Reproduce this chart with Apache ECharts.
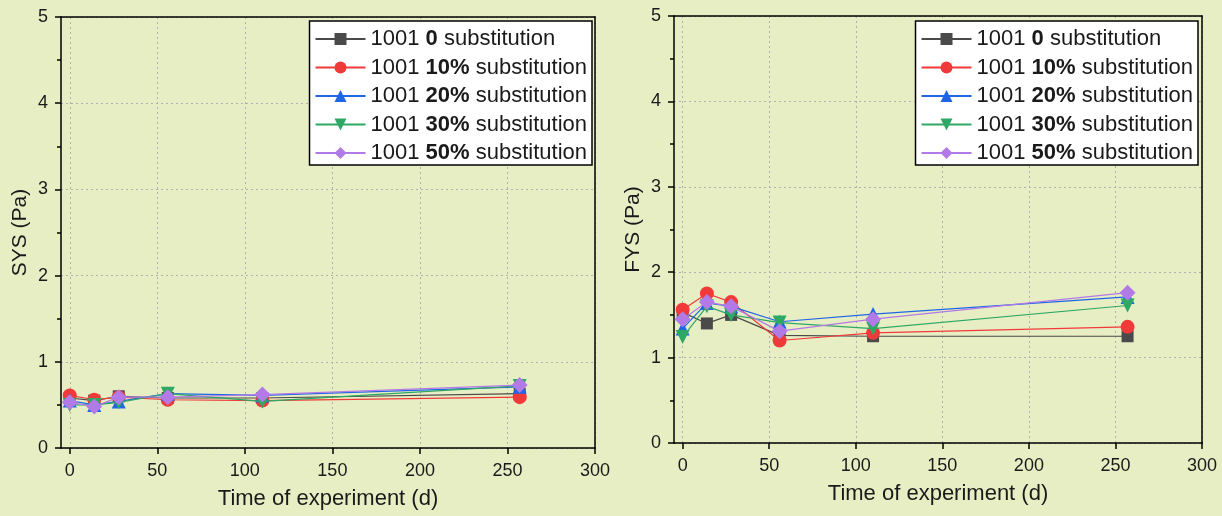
<!DOCTYPE html>
<html><head><meta charset="utf-8">
<script src="https://cdn.jsdelivr.net/npm/echarts@6/dist/echarts.min.js"></script>
<style>html,body{margin:0;padding:0;background:#e8eec4}#c{width:1222px;height:516px}</style>
</head><body><div id="c"></div>
<script>
const days = [0, 14, 28, 56, 110, 257];
const labels = ['0', '10%', '20%', '30%', '50%'];
const xTicks = [0, 50, 100, 150, 200, 250, 300];
// SYS (Pa)
const sys0  = [0.58, 0.55, 0.60, 0.58, 0.58, 0.63];
const sys10 = [0.61, 0.56, 0.59, 0.56, 0.55, 0.59];
const sys20 = [0.55, 0.50, 0.54, 0.63, 0.61, 0.71];
const sys30 = [0.50, 0.50, 0.53, 0.63, 0.54, 0.72];
const sys50 = [0.53, 0.48, 0.59, 0.59, 0.62, 0.73];
// FYS (Pa)
const fys0  = [1.53, 1.40, 1.50, 1.26, 1.25, 1.25];
const fys10 = [1.56, 1.75, 1.65, 1.20, 1.29, 1.36];
const fys20 = [1.34, 1.64, 1.60, 1.42, 1.51, 1.71];
const fys30 = [1.24, 1.60, 1.50, 1.41, 1.34, 1.61];
const fys50 = [1.45, 1.65, 1.60, 1.31, 1.45, 1.76];

const colors = ['#4a4a4a', '#f03a3a', '#1e66e6', '#2ea864', '#b27ae6'];
const symbols = ['rect', 'circle', 'triangle', 'path://M0,0 L10,0 L5,9 Z', 'diamond'];
const symSizes = [12, 14, 14, 14, 16];
const sysData = [sys0, sys10, sys20, sys30, sys50];
const fysData = [fys0, fys10, fys20, fys30, fys50];

const font = 'Liberation Sans, Arial, sans-serif';
const txt = '#1a1a1a';
const axisLineStyle = {color: '#000', width: 1.5};
const gridLine = {show: true, lineStyle: {color: '#b0b0b0', type: [2, 3], width: 1}};

function xAxis(gi) {
  return {
    gridIndex: gi, type: 'value', min: -5, max: 300,
    name: 'Time of experiment (d)', nameLocation: 'middle', nameGap: 40,
    nameTextStyle: {fontFamily: font, fontSize: 22, color: txt},
    axisLine: {show: true, onZero: false, lineStyle: axisLineStyle},
    axisTick: {show: true, inside: false, length: 6, customValues: xTicks, lineStyle: axisLineStyle},
    axisLabel: {customValues: xTicks, fontFamily: font, fontSize: 18, color: txt, margin: 14},
    splitLine: gridLine
  };
}
function xTop(gi) {
  return {gridIndex: gi, type: 'value', min: -5, max: 300, position: 'top',
    axisLine: {show: true, onZero: false, lineStyle: axisLineStyle},
    axisTick: {show: false}, axisLabel: {show: false}, splitLine: {show: false}};
}
function yAxis(gi, nm) {
  return {
    gridIndex: gi, type: 'value', min: 0, max: 5, interval: 1,
    name: nm, nameLocation: 'middle', nameGap: 30,
    nameTextStyle: {fontFamily: font, fontSize: 21, color: txt},
    axisLine: {show: true, onZero: false, lineStyle: axisLineStyle},
    axisTick: {show: true, inside: false, length: 6, lineStyle: axisLineStyle},
    minorTick: {show: true, splitNumber: 2, length: 4, lineStyle: axisLineStyle},
    axisLabel: {fontFamily: font, fontSize: 18, color: txt, margin: 13},
    splitLine: gridLine
  };
}
function yRight(gi) {
  return {gridIndex: gi, type: 'value', min: 0, max: 5, position: 'right',
    axisLine: {show: true, onZero: false, lineStyle: axisLineStyle},
    axisTick: {show: false}, axisLabel: {show: false}, splitLine: {show: false}};
}
const series = [];
function addSeries(prefix, gi, data) {
  data.forEach((vals, i) => {
    series.push({
      name: prefix + i, type: 'line', xAxisIndex: gi, yAxisIndex: gi,
      data: days.map((d, k) => [d, vals[k]]),
      symbol: symbols[i], symbolSize: symSizes[i], showSymbol: true, clip: false,
      itemStyle: {color: colors[i]}, lineStyle: {color: colors[i], width: 1.2},
      z: 2 + i
    });
  });
}
addSeries('L', 0, sysData);
addSeries('R', 1, fysData);

function legend(prefix, right) {
  return {
    orient: 'vertical', top: 21, right: right,
    data: labels.map((_, i) => prefix + i),
    backgroundColor: '#fff', borderColor: '#000', borderWidth: 1.5, padding: [7, 5, 1, 5],
    itemWidth: 50, itemHeight: 15, itemGap: 6.5,
    formatter: n => '1001 {b|' + labels[+n.slice(1)] + '} substitution',
    textStyle: {fontFamily: font, fontSize: 22, color: txt,
      rich: {b: {fontWeight: 'bold', fontFamily: font, fontSize: 22, color: txt}}}
  };
}

const chart = echarts.init(document.getElementById('c'), null, {renderer: 'canvas'});
chart.setOption({
  backgroundColor: '#e8eec4',
  animation: false,
  grid: [
    {left: 61, top: 17, width: 534, height: 431},
    {left: 674, top: 16, width: 528, height: 427}
  ],
  xAxis: [xAxis(0), xAxis(1), xTop(0), xTop(1)],
  yAxis: [yAxis(0, 'SYS (Pa)'), yAxis(1, 'FYS (Pa)'), yRight(0), yRight(1)],
  legend: [legend('L', 1222 - 592), legend('R', 1222 - 1198)],
  series: series
});
</script></body></html>
